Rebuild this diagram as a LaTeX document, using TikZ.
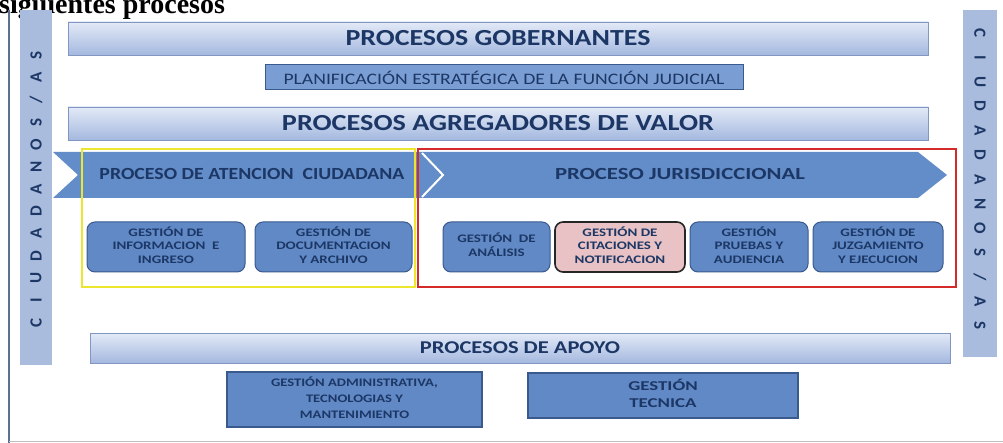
\documentclass[tikz,border=0pt]{standalone}
\usepackage{fontspec}
\setmainfont{Carlito}
\newfontfamily\titlefont{Liberation Serif}
\definecolor{barT}{HTML}{E3EAF7}
\definecolor{barB}{HTML}{A4B8DF}
\definecolor{barD}{HTML}{8196C0}
\definecolor{sideC}{HTML}{A9BCDD}
\definecolor{navy}{HTML}{1C3765}
\definecolor{chev}{HTML}{638DC8}
\definecolor{boxf}{HTML}{6089C6}
\definecolor{boxd}{HTML}{3A5A8E}
\definecolor{pinkf}{HTML}{E8C2C4}
\definecolor{planf}{HTML}{7A9ED3}
\definecolor{yel}{HTML}{EDE62E}
\definecolor{redb}{HTML}{D42A2A}
\definecolor{pline}{HTML}{5D7090}
\newcommand\xs[2]{\resizebox{#1}{\height}{#2}}
\newcommand\bt[2]{\scalebox{#1}[1]{\begin{tabular}{@{}c@{}}#2\end{tabular}}}
\tikzset{
  bar/.style={draw=barD, line width=0.8pt, top color=barT, bottom color=barB, inner sep=0pt, text=navy},
  rbox/.style={draw=boxd, line width=1pt, fill=boxf, rounded corners=8pt, inner sep=0pt, text=navy,
     minimum height=50pt, font=\fontsize{11.5}{13.5}\selectfont\bfseries},
  sqbox/.style={draw=boxd, line width=1.2pt, fill=boxf, inner sep=0pt, text=navy},
  sideband/.style={fill=sideC},
  letter/.style={text=navy, font=\fontsize{17}{17}\selectfont\bfseries, inner sep=0pt},
  bandtext/.style={text=navy, font=\fontsize{17}{17}\selectfont\bfseries, inner sep=0pt}
}
\begin{document}
\begin{tikzpicture}[x=1pt,y=-1pt]
\clip (0,0) rectangle (1003,443);
\fill[white] (0,0) rectangle (1003,443);
% title (cropped at the top, as in the scan)
\node[anchor=base west, inner sep=0pt, font=\titlefont\bfseries\fontsize{28}{28}\selectfont] (title) at (-1,14) {siguientes procesos};
% page line
\draw[pline, line width=1.3pt] (9,10) -- (9,443);
\draw[black!25, line width=0.8pt] (9,441.5) -- (1003,441.5);
% side bands
\fill[sideband] (20,10) rectangle (52,365);
\fill[sideband] (963,10) rectangle (997,357);
\foreach \l [count=\i from 0] in {C,I,U,D,A,D,A,N,O,S,/,A,S}{
  \node[letter, rotate=90] (L\i) at (36,{323-\i*22.3}) {\l};
  \node[letter, rotate=-90] (R\i) at (980,{33+\i*24.4}) {\l};
}
% top bars
\node[bar, minimum width=860pt, minimum height=33pt] (gob) at (498,38.5)
  {\xs{305pt}{\fontsize{23}{23}\selectfont\bfseries PROCESOS GOBERNANTES}};
\node[draw=boxd, line width=1pt, fill=planf, minimum width=478pt, minimum height=25pt, inner sep=0pt, text=navy] (plan) at (504,77.5)
  {\xs{441pt}{\fontsize{16}{16}\selectfont PLANIFICACIÓN ESTRATÉGICA DE LA FUNCIÓN JUDICIAL}};
\node[bar, minimum width=860pt, minimum height=33pt] (agr) at (498,123.5)
  {\xs{432pt}{\fontsize{23}{23}\selectfont\bfseries PROCESOS AGREGADORES DE VALOR}};
% chevron band
\fill[chev] (53,152) -- (918,152) -- (947,175) -- (918,198) -- (53,198) -- (78,175) -- cycle;
\draw[white, line width=2pt] (422,153) -- (443,175) -- (422,197);
\node[bandtext] (atc) at (252,174) {\xs{305pt}{PROCESO DE ATENCION~~CIUDADANA}};
\node[bandtext] (jur) at (680,174) {\xs{250pt}{PROCESO JURISDICCIONAL}};
% frames
\draw[yel, line width=1.6pt] (82,149) rectangle (415,287);
\draw[redb, line width=1.6pt] (418,149) rectangle (956,287);
% process boxes
\node[rbox, minimum width=158pt] (inf) at (166,247) {\bt{1.3}{GESTIÓN DE\\INFORMACION~~E\\INGRESO}};
\node[rbox, minimum width=157pt] (doc) at (333.5,247) {\bt{1.3}{GESTIÓN DE\\DOCUMENTACION\\Y ARCHIVO}};
\node[rbox, minimum width=107pt] (ana) at (496.5,247) {\bt{1.3}{GESTIÓN~~DE\\ANÁLISIS}};
\node[rbox, minimum width=130pt, fill=pinkf, draw=black!85, line width=1.6pt] (cit) at (620,247) {\bt{1.3}{GESTIÓN DE\\CITACIONES Y\\NOTIFICACION}};
\node[rbox, minimum width=118pt] (pru) at (749,247) {\bt{1.3}{GESTIÓN\\PRUEBAS Y\\AUDIENCIA}};
\node[rbox, minimum width=130pt] (juz) at (878,247) {\bt{1.3}{GESTIÓN DE\\JUZGAMIENTO\\Y EJECUCION}};
% support
\node[bar, minimum width=860pt, minimum height=30pt] (apo) at (520,348)
  {\xs{200pt}{\fontsize{18}{18}\selectfont\bfseries PROCESOS DE APOYO}};
\node[sqbox, minimum width=255pt, minimum height=55pt, font=\fontsize{11.5}{16}\selectfont\bfseries] (adm) at (354.5,399.5)
  {\bt{1.27}{GESTIÓN ADMINISTRATIVA,\\TECNOLOGIAS Y\\MANTENIMIENTO}};
\node[sqbox, minimum width=270pt, minimum height=45pt, font=\fontsize{13.5}{17}\selectfont\bfseries] (tec) at (663,395.5)
  {\bt{1.4}{GESTIÓN\\TECNICA}};
\end{tikzpicture}
\end{document}
